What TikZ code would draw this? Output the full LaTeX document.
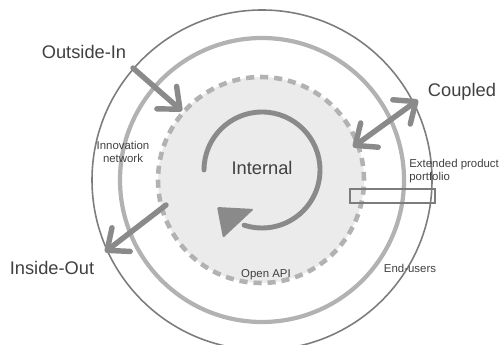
\documentclass[tikz,border=0pt]{standalone}
\usepackage{fontspec}
\setmainfont{Liberation Sans}
\usetikzlibrary{arrows.meta}
\definecolor{ringdark}{HTML}{7C7C7C}
\definecolor{ringlight}{HTML}{B2B2B2}
\definecolor{corefill}{HTML}{EBEBEB}
\definecolor{arrowgray}{HTML}{8A8A8A}
\definecolor{labelgray}{HTML}{404040}
\tikzset{
  biglabel/.style={text=labelgray, font=\fontsize{10.4}{12}\selectfont, inner sep=0pt},
  smalllabel/.style={text=labelgray, font=\fontsize{6.5}{7.4}\selectfont, inner sep=0pt, align=center},
  barbtip/.tip={Straight Barb[round,length=10pt,width=17pt]},
  flowarrow/.style={line width=3.1pt, color=arrowgray, line cap=round, -barbtip},
  dualarrow/.style={flowarrow, barbtip-barbtip}
}

\begin{document}
\begin{tikzpicture}[x=0.02cm, y=0.02cm]
			%%%%% START %%%%%
			\useasboundingbox (0, 0) rectangle (502, 344);
			
			\coordinate (hub) at (262, 164);
			
			\fill[corefill] (261, 164) circle (103);
			\draw[line width=0.9pt, color=ringdark] (hub) circle (170);
			\draw[line width=2.4pt, color=ringlight] (hub) circle (142);
			\draw[line width=2.6pt, color=ringlight, dash pattern=on 4.6pt off 3.4pt] (261, 164) circle (103);
			
			\draw[line width=0.6pt, color=ringdark] (350, 155) rectangle (435, 141);
			
			\draw[line width=2.8pt, color=arrowgray, line cap=round] (204, 174) arc[start angle=180, end angle=-108, radius=58];
			\fill[arrowgray, rounded corners=0.8pt] (217, 137) -- (254, 135) -- (223, 106) -- cycle;
			
			\node[biglabel] (internal) at (262, 176) {Internal};
			\node[biglabel] (outin) at (84, 292) {Outside-In};
			\node[biglabel] (coupled) at (462, 252) {Coupled};
			\node[biglabel] (inout) at (52, 76) {Inside-Out};
			
			\node[smalllabel] (network) at (123, 192) {Innovation\\network};
			\node[smalllabel, align=left, anchor=west] (portfolio) at (409, 173) {Extended product\\portfolio};
			\node[smalllabel] (endusers) at (410, 76) {End-users};
			\node[smalllabel] (openapi) at (266, 69) {Open API};
			
			\coordinate (oi-a) at (133, 276);
			\coordinate (oi-b) at (182, 233);
			\coordinate (cp-a) at (353, 197);
			\coordinate (cp-b) at (418, 244);
			\coordinate (io-a) at (166, 139);
			\coordinate (io-b) at (105, 92);
			
			\draw[flowarrow] (oi-a) -- (oi-b);
			\draw[dualarrow] (cp-a) -- (cp-b);
			\draw[flowarrow] (io-a) -- (io-b);
			
			%%%%% END %%%%%
\end{tikzpicture}
\end{document}
